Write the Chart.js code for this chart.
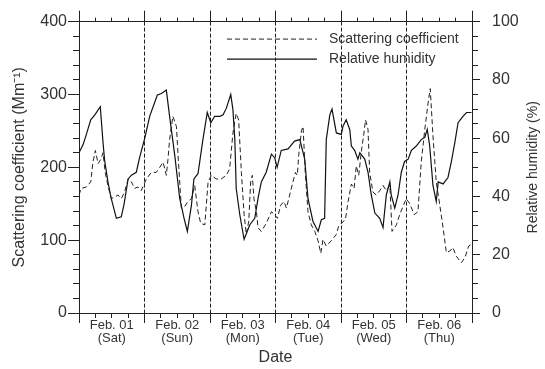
<!DOCTYPE html>
<html>
<head>
<meta charset="utf-8">
<script src="https://cdn.jsdelivr.net/npm/chart.js@4.4.1/dist/chart.umd.min.js"></script>
<style>
  html, body { margin: 0; padding: 0; background: #fff; }
  #wrap { width: 545px; height: 369px; }
</style>
</head>
<body>
<div id="wrap"><canvas id="chart" width="545" height="369"></canvas></div>
<script>
// Day labels under the time axis (one per day, centred at noon)
const dayNames = ["Feb. 01", "Feb. 02", "Feb. 03", "Feb. 04", "Feb. 05", "Feb. 06"];
const weekDays = ["(Sat)", "(Sun)", "(Mon)", "(Tue)", "(Wed)", "(Thu)"];

// Scattering coefficient (Mm-1), hours since Feb 01 00:00
const scatHours = [0, 0.8, 2.7, 4.3, 5.1, 6, 7, 8, 8.8, 9.6, 10.6, 11.8, 13.1, 14.3, 15.5, 16.7, 18, 19.2, 20.4, 21.6, 22.8,
  24.7, 26.5, 28.3, 29.6, 30.8, 32, 32.6, 33.2, 34.4, 35.7, 36.3, 37.5, 38.7, 39.9, 41.2, 42.4, 43.6, 44.6, 46.1,
  47.3, 48.5, 50.3, 52.1, 54, 55.2, 56.4, 57.6, 58.5, 59.5, 60.5, 61.3, 62.2, 62.9, 63.5, 64.1, 65, 65.6, 66.8, 68.6,
  70.5, 71.7, 72.7, 73.9, 75.1, 76, 77.2, 78.4, 79.3, 80, 80.5, 81.5, 82.1, 82.9, 83.9, 85.1, 86.4, 87.6, 88.6, 89.4,
  90.6, 92.4, 94.3, 95.1, 96.1, 97.6, 98.6, 99.8, 100.8, 101.6, 102.5, 103.4, 104.4, 105, 105.9, 106.5, 107.7, 108.9,
  110.2, 111.4, 112.6, 113.9, 114.7, 116.3, 117.5, 118.7, 119.9, 121.2, 122.8, 124.2, 125.4, 126.7, 127.9, 128.7,
  129.7, 130.9, 132.2, 133.4, 134.6, 135.9, 137, 138.2, 140.1, 141.4, 142.8, 143.8];
const scatValues = [162, 171, 173, 180, 207, 223, 205, 211, 220, 193, 175, 157, 159, 162, 157, 166, 184, 180, 171, 173, 168,
  184, 193, 193, 200, 207, 189, 211, 238, 270, 256, 216, 144, 146, 153, 157, 175, 139, 123, 121,
  180, 189, 184, 184, 189, 198, 247, 274, 265, 193, 135, 108, 126, 180, 189, 157, 139, 117, 112, 123,
  139, 135, 130, 148, 153, 144, 162, 180, 193, 189, 216, 250, 256, 193, 139, 121, 112, 99, 82, 101,
  92, 99, 108, 119, 123, 128, 153, 177, 171, 202, 189, 220, 247, 265, 252, 193, 166, 162,
  168, 175, 168, 175, 112, 121, 135, 146, 157, 150, 135, 139, 207, 252, 288, 308,
  243, 180, 148, 117, 83, 85, 90, 78, 69, 76, 92, 94];

// Relative humidity (%), hours since Feb 01 00:00
const rhHours = [0, 1.5, 2.7, 4.3, 5.8, 7.8, 8.8, 9.4, 10.6, 11.8, 13.7, 15.5, 16.5, 18, 19.2, 21, 22.2, 24.1, 25.9, 28.7,
  30.2, 32, 33.2, 35.1, 36.9, 38.5, 39.7, 41.2, 42.1, 43.6, 45.4, 47, 48.3, 49.7, 51.6, 52.8, 54, 55.6, 56.4, 57.1,
  57.6, 58.9, 60.5, 62.6, 64.4, 65.6, 66.8, 68.6, 70.5, 71.7, 72.6, 74.1, 76.6, 79, 80.9, 82.7, 83.9, 85.7, 87.6, 88.8,
  90, 90.6, 91.9, 92.7, 94.3, 96.1, 96.7, 97.9, 99.2, 99.8, 101, 102.2, 102.9, 104.7, 105.9, 107.1, 108.4, 110.2, 111.4,
  112.6, 113.9, 114.4, 115.7, 116.9, 118.1, 119.3, 120.6, 121.8, 123.6, 125.4, 126.7, 127.6, 128.5, 129.7, 130.9, 131.6,
  133.4, 135.2, 136.4, 137.7, 138.9, 140.7, 142, 143.8];
const rhValues = [55, 57.8, 61.3, 66.3, 68, 70.8, 58.5, 52.3, 45, 39.3, 32.5, 33, 37.3, 46, 47.3, 48.3, 53.3, 60, 67.5, 74.8,
  75.3, 76.5, 67.5, 54, 39.3, 32.5, 28, 37, 46, 47.8, 59.5, 68.8, 65.3, 67.5, 67.5, 68, 70.3, 75, 69.8, 59.5,
  42.8, 33.8, 25.3, 30.3, 32.5, 39.3, 45, 48.3, 54.5, 53.3, 50, 55.8, 56.3, 59, 59.5, 52.8, 39.3, 31.5, 28, 32,
  32.5, 59.5, 68, 70, 61.8, 61.3, 64, 66.3, 63, 57.3, 55.8, 52.8, 55, 52.8, 48.3, 40.5, 34.3, 32.5, 29.3,
  40.5, 45, 40.5, 36, 40.5, 48.3, 52, 52.8, 55.8, 57.3, 59.5, 60.3, 63, 57.3, 43.8, 38.3, 45,
  44.3, 46.5, 51.8, 58.5, 65.3, 67.5, 68.8, 68.8];

const FONT = '"Liberation Sans", Arial, sans-serif';
const INK = "#222";
Chart.defaults.font.family = FONT;
Chart.defaults.color = "#333";

const isDayEdge = v => v % 24 === 0;

// Legend drawn inside the plot, plus the right axis title (reads bottom-to-top like the left one)
const extras = {
  id: "extras",
  afterDatasetsDraw(chart) {
    const { ctx, chartArea } = chart;
    const x0 = chartArea.left + 148;
    chart.data.datasets.forEach((ds, i) => {
      const y = chartArea.top + 17.5 + i * 20;
      ctx.save();
      ctx.strokeStyle = ds.borderColor;
      ctx.lineWidth = ds.borderWidth;
      ctx.setLineDash(ds.borderDash || []);
      ctx.beginPath();
      ctx.moveTo(x0, y);
      ctx.lineTo(x0 + 90, y);
      ctx.stroke();
      ctx.setLineDash([]);
      ctx.fillStyle = "#333";
      ctx.font = "14px " + FONT;
      ctx.textBaseline = "middle";
      ctx.fillText(ds.label, x0 + 102, y);
      ctx.restore();
    });

    const r = chart.scales.y2;
    ctx.save();
    ctx.translate(r.right - 12, (chartArea.top + chartArea.bottom) / 2);
    ctx.rotate(-Math.PI / 2);
    ctx.fillStyle = "#333";
    ctx.font = "14px " + FONT;
    ctx.textAlign = "center";
    ctx.textBaseline = "middle";
    ctx.fillText("Relative humidity (%)", 0, 0);
    ctx.restore();
  }
};

new Chart(document.getElementById("chart"), {
  type: "line",
  data: {
    datasets: [
      {
        label: "Scattering coefficient",
        data: scatHours.map((h, i) => ({ x: h, y: scatValues[i] })),
        yAxisID: "y",
        borderColor: INK,
        borderWidth: 1,
        borderDash: [5, 3],
        pointRadius: 0,
        tension: 0
      },
      {
        label: "Relative humidity",
        data: rhHours.map((h, i) => ({ x: h, y: rhValues[i] })),
        yAxisID: "y2",
        borderColor: "#111",
        borderWidth: 1.2,
        pointRadius: 0,
        tension: 0
      }
    ]
  },
  options: {
    responsive: false,
    animation: false,
    layout: { padding: 0 },
    plugins: {
      legend: { display: false },
      tooltip: { enabled: false }
    },
    scales: {
      x: {
        type: "linear",
        position: "bottom",
        min: 0,
        max: 144,
        afterFit: s => { s.height = 56; },
        ticks: {
          stepSize: 6,
          autoSkip: false,
          maxRotation: 0,
          padding: -4,
          font: { size: 13, lineHeight: 0.98 },
          callback: v => (v % 24 === 12 ? [dayNames[(v - 12) / 24], weekDays[(v - 12) / 24]] : "")
        },
        grid: {
          color: c => (isDayEdge(c.tick.value) && c.tick.value > 0 && c.tick.value < 144 ? INK : "rgba(0,0,0,0)"),
          tickColor: INK,
          tickLength: 10,
          tickBorderDash: c => (isDayEdge(c.tick.value) ? [] : [4, 100])
        },
        border: { color: INK, dash: [4, 2] },
        title: { display: true, text: "Date", font: { size: 16 }, padding: { top: 0, bottom: 2 } }
      },
      xTop: {
        type: "linear",
        position: "top",
        min: 0,
        max: 144,
        afterFit: s => { s.height = 17; },
        ticks: { stepSize: 6, autoSkip: false, display: false },
        grid: {
          drawOnChartArea: false,
          color: INK,
          tickColor: INK,
          tickLength: 11,
          tickBorderDash: c => (isDayEdge(c.tick.value) ? [] : [0, 7, 4, 100])
        },
        border: { color: INK }
      },
      y: {
        position: "left",
        min: 0,
        max: 400,
        afterFit: s => { s.width = 79; },
        ticks: {
          stepSize: 20,
          autoSkip: false,
          padding: 1,
          font: { size: 16 },
          callback: v => (v % 100 === 0 ? v : "")
        },
        grid: {
          drawOnChartArea: false,
          color: INK,
          tickColor: INK,
          tickLength: 11,
          tickBorderDash: c => (c.tick.value % 100 === 0 ? [] : [0, 5, 6, 100])
        },
        border: { color: INK },
        title: {
          display: true,
          text: "Scattering coefficient (Mm\u207B\u00B9)",
          font: { size: 16 },
          padding: { top: 10, bottom: 0 }
        }
      },
      y2: {
        position: "right",
        min: 0,
        max: 100,
        afterFit: s => { s.width = 73; },
        ticks: {
          stepSize: 5,
          autoSkip: false,
          padding: 12,
          font: { size: 16 },
          callback: v => (v % 20 === 0 ? v : "")
        },
        grid: {
          drawOnChartArea: false,
          color: INK,
          tickColor: INK,
          tickLength: 8,
          tickBorderDash: c => (c.tick.value % 20 === 0 ? [] : [5, 100])
        },
        border: { color: INK }
      }
    }
  },
  plugins: [extras]
});
</script>
</body>
</html>
